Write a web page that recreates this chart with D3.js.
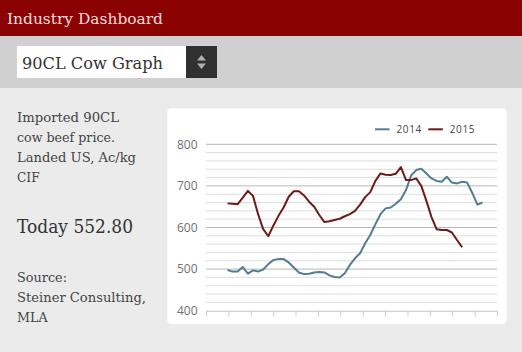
<!DOCTYPE html>
<html>
<head>
<meta charset="utf-8">
<script src="https://cdn.jsdelivr.net/npm/d3@7"></script>
<style>
  html, body { margin: 0; padding: 0; background: #ebebeb; }
  svg { display: block; }
</style>
</head>
<body>
<svg id="chart" width="522" height="352"></svg>
<script>
// ---- data ----
const years = ["2014", "2015"];
const values2014 = [498, 494, 494, 505, 489, 497, 494, 499, 512, 522,
                    524, 524, 516, 504, 492, 488, 489, 492, 493, 492,
                    485, 481, 480, 490, 510, 526, 538, 562, 582, 608,
                    632, 646, 648, 657, 668, 690, 725, 738, 741, 730,
                    718, 712, 710, 722, 708, 706, 710, 708, 683, 655, 660];
const values2015 = [658, 657, 656, 672, 688, 676, 632, 596, 579, 605,
                    628, 648, 674, 687, 687, 677, 662, 650, 630, 613,
                    615, 618, 621, 627, 632, 640, 655, 673, 685, 712,
                    730, 727, 726, 729, 745, 714, 714, 718, 700, 664,
                    625, 596, 594, 594, 588, 570, 553];
const yTickValues = [400, 500, 600, 700, 800];
const monthTicks = d3.range(0, 14);
const titleText = "Industry Dashboard";
const selectText = "90CL Cow Graph";
const descLines = ["Imported 90CL", "cow beef price.", "Landed US, Ac/kg", "CIF"];
const todayText = "Today 552.80";
const sourceLines = ["Source:", "Steiner Consulting,", "MLA"];
const seriesColors = ["#527d92", "#6e1b1d"];

const svg = d3.select("#chart");
const slab = "'DejaVu Serif', 'Liberation Serif', serif";
const sans = "'Open Sans', 'Noto Sans', sans-serif";

// ---- page chrome ----
svg.append("rect").attr("x", 0).attr("y", 0).attr("width", 522).attr("height", 352).attr("fill", "#ebebeb");
svg.append("rect").attr("x", 0).attr("y", 0).attr("width", 522).attr("height", 36).attr("fill", "#8b0202");
svg.append("rect").attr("x", 0).attr("y", 36).attr("width", 522).attr("height", 52).attr("fill", "#d0d0d0");
svg.append("text").text(titleText)
  .attr("x", 7).attr("y", 24).attr("font-family", slab).attr("font-size", 15.5)
  .attr("fill", "#f4dddd").attr("textLength", 156).attr("lengthAdjust", "spacingAndGlyphs");

// select box
svg.append("rect").attr("x", 17).attr("y", 46).attr("width", 169).attr("height", 32).attr("fill", "#ffffff");
svg.append("rect").attr("x", 186).attr("y", 46).attr("width", 31).attr("height", 32).attr("fill", "#303030");
svg.append("path").attr("d", "M197,60.5 L201.5,55 L206,60.5 Z").attr("fill", "#b0b0b0");
svg.append("path").attr("d", "M197,63.5 L201.5,69 L206,63.5 Z").attr("fill", "#b0b0b0");
svg.append("text").text(selectText)
  .attr("x", 22).attr("y", 69).attr("font-family", slab).attr("font-size", 17)
  .attr("fill", "#333").attr("textLength", 141).attr("lengthAdjust", "spacingAndGlyphs");

// left descriptive text
const descWidths = [102, 98, 119, 22.6];
descLines.forEach((t, i) => {
  svg.append("text").text(t)
    .attr("x", 17).attr("y", 121.5 + i * 20.2).attr("font-family", slab).attr("font-size", 13)
    .attr("fill", "#444").attr("textLength", descWidths[i]).attr("lengthAdjust", "spacingAndGlyphs");
});
svg.append("text").text(todayText)
  .attr("x", 17).attr("y", 233.3).attr("font-family", slab).attr("font-size", 18.5)
  .attr("fill", "#333").attr("textLength", 116).attr("lengthAdjust", "spacingAndGlyphs");
const srcWidths = [50, 129, 30.6];
sourceLines.forEach((t, i) => {
  svg.append("text").text(t)
    .attr("x", 17).attr("y", 281.7 + i * 20.1).attr("font-family", slab).attr("font-size", 13)
    .attr("fill", "#444").attr("textLength", srcWidths[i]).attr("lengthAdjust", "spacingAndGlyphs");
});

// chart panel
svg.append("rect").attr("x", 167.3).attr("y", 108.3).attr("width", 339.4).attr("height", 215.7)
  .attr("rx", 4).attr("fill", "#ffffff");

// ---- scales ----
const y = d3.scaleLinear().domain([400, 800]).range([310.7, 144.3]);
const xAxisScale = d3.scaleLinear().domain([0, 13]).range([206, 497]);
const x = d3.scaleLinear().domain([0, 50]).range([227.5, 482.5]);

// gridlines
const g = svg.append("g");
g.selectAll("line.minor").data(d3.range(420, 801, 20).filter(v => v % 100 !== 0))
  .join("line").attr("class", "minor")
  .attr("x1", 206).attr("x2", 497).attr("y1", d => y(d)).attr("y2", d => y(d))
  .attr("stroke", "#dedede").attr("stroke-width", 1);
g.selectAll("line.major").data(yTickValues.filter(v => v > 400))
  .join("line").attr("class", "major")
  .attr("x1", 206).attr("x2", 497).attr("y1", d => y(d)).attr("y2", d => y(d))
  .attr("stroke", "#b8b8b8").attr("stroke-width", 1);

// y axis labels
const yAxis = d3.axisLeft(y).tickValues(yTickValues).tickSize(0).tickPadding(0);
const yg = svg.append("g").attr("transform", "translate(197.5,0)").call(yAxis);
yg.select(".domain").remove();
yg.selectAll("text").attr("font-family", sans).attr("font-size", 12).attr("fill", "#707070");

// x axis
const xAxis = d3.axisBottom(xAxisScale).tickValues(monthTicks).tickSize(6).tickFormat("");
const xg = svg.append("g").attr("transform", `translate(0,${y(400)})`).call(xAxis);
xg.select(".domain").attr("stroke", "#c4c4c4").attr("d", `M206,0.5H497`);
xg.selectAll(".tick line").attr("stroke", "#cfcfcf");

// lines
const line = d3.line().x((d, i) => x(i)).y(d => y(d));
[values2014, values2015].forEach((vals, k) => {
  svg.append("path").datum(vals).attr("d", line)
    .attr("fill", "none").attr("stroke", seriesColors[k]).attr("stroke-width", 2)
    .attr("stroke-linejoin", "round");
});

// legend
const legendX = [375, 428.3];
years.forEach((yr, k) => {
  svg.append("line").attr("x1", legendX[k]).attr("x2", legendX[k] + 14.5)
    .attr("y1", 129.3).attr("y2", 129.3).attr("stroke", seriesColors[k]).attr("stroke-width", 2);
  svg.append("text").text(yr).attr("x", legendX[k] + 21.5).attr("y", 133)
    .attr("font-family", sans).attr("font-size", 10).attr("letter-spacing", 0.6).attr("fill", "#444");
});
</script>
</body>
</html>
